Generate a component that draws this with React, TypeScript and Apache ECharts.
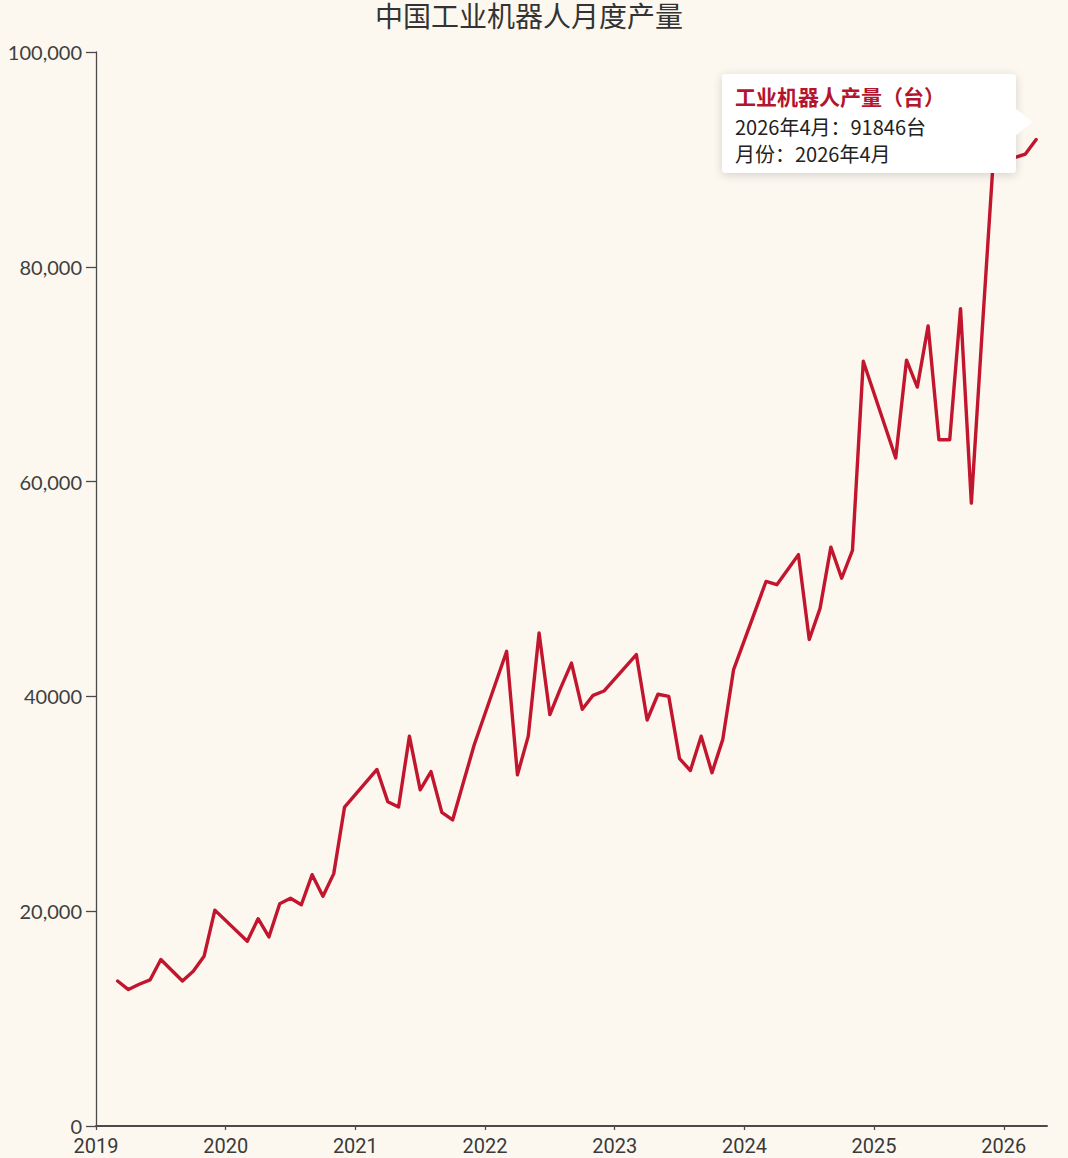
import React, { useEffect, useRef } from "react";
import * as echarts from "echarts";

// ---- data ----
const months: string[] = [
  "2019-03", "2019-04", "2019-05", "2019-06", "2019-07", "2019-08", "2019-09", "2019-10", "2019-11", "2019-12",
  "2020-03", "2020-04", "2020-05", "2020-06", "2020-07", "2020-08", "2020-09", "2020-10", "2020-11", "2020-12",
  "2021-03", "2021-04", "2021-05", "2021-06", "2021-07", "2021-08", "2021-09", "2021-10", "2021-11", "2021-12",
  "2022-03", "2022-04", "2022-05", "2022-06", "2022-07", "2022-08", "2022-09", "2022-10", "2022-11", "2022-12",
  "2023-03", "2023-04", "2023-05", "2023-06", "2023-07", "2023-08", "2023-09", "2023-10", "2023-11", "2023-12",
  "2024-03", "2024-04", "2024-05", "2024-06", "2024-07", "2024-08", "2024-09", "2024-10", "2024-11", "2024-12",
  "2025-03", "2025-04", "2025-05", "2025-06", "2025-07", "2025-08", "2025-09", "2025-10", "2025-11", "2025-12",
  "2026-03", "2026-04",
];

const production: number[] = [
  13500, 12700, 13200, 13600, 15500, 14500, 13500, 14400, 15800, 20100,
  17200, 19300, 17600, 20700, 21200, 20600, 23400, 21400, 23500, 29700,
  33200, 30200, 29700, 36300, 31300, 33000, 29200, 28500, 32000, 35500,
  44200, 32700, 36300, 45900, 38300, 40800, 43100, 38800, 40100, 40500,
  43900, 37800, 40200, 40000, 34200, 33100, 36300, 32900, 36000, 42500,
  50700, 50400, 51800, 53200, 45300, 48200, 53900, 51000, 53600, 71200,
  62200, 71300, 68800, 74500, 63900, 63900, 76100, 58000, 74000, 89500,
  90500, 91846,
];

const yearTicks: number[] = [2019, 2020, 2021, 2022, 2023, 2024, 2025, 2026];
const yTickValues: number[] = [0, 20000, 40000, 60000, 80000, 100000];
const yTickLabels: string[] = ["0", "20,000", "40000", "60,000", "80,000", "100,000"];

const chartTitle = "中国工业机器人月度产量";
const seriesName = "工业机器人产量（台）";
const unit = "台";
const monthFieldName = "月份";

const xMin = 2019;
const xMax = 2026 + 4 / 12;

function monthToX(m: string): number {
  const [y, mo] = m.split("-").map(Number);
  return y + (mo - 1) / 12;
}
function monthLabel(m: string): string {
  const [y, mo] = m.split("-").map(Number);
  return `${y}年${mo}月`;
}

export default function App() {
  const ref = useRef<HTMLDivElement>(null);

  useEffect(() => {
    if (!ref.current) return;
    const chart = echarts.init(ref.current, undefined, { renderer: "svg" });

    const lastIdx = months.length - 1;
    const tipTitle = seriesName;
    const tipLine1 = `${monthLabel(months[lastIdx])}：${production[lastIdx]}${unit}`;
    const tipLine2 = `${monthFieldName}：${monthLabel(months[lastIdx])}`;

    const axisColor = "#4a4a4a";
    const lineColor = "#C2162F";
    const tipZ = 100;

    chart.setOption({
      animation: false,
      backgroundColor: "#FCF8F0",
      title: {
        text: chartTitle,
        left: 375,
        top: 1,
        padding: 0,
        textStyle: {
          fontFamily: "Noto Sans CJK SC",
          fontSize: 28,
          fontWeight: "normal",
          color: "#333333",
          lineHeight: 28,
        },
      },
      grid: { left: 96, right: 21, top: 52, bottom: 32, containLabel: false },
      xAxis: {
        type: "value",
        min: xMin,
        max: xMax,
        interval: 1,
        axisLine: { show: true, lineStyle: { color: axisColor, width: 2 } },
        axisTick: {
          show: true,
          length: 4,
          customValues: yearTicks,
          lineStyle: { color: axisColor, width: 1.3 },
        },
        axisLabel: {
          customValues: yearTicks,
          margin: 12,
          fontFamily: "Roboto",
          fontSize: 20,
          lineHeight: 16,
          color: "#3a3a3a",
          formatter: (v: number) => String(Math.round(v)),
        },
        splitLine: { show: false },
      },
      yAxis: {
        type: "value",
        min: 0,
        max: 100000,
        interval: 20000,
        axisLine: { show: true, lineStyle: { color: axisColor, width: 1.3 } },
        axisTick: { show: true, length: 10, lineStyle: { color: axisColor, width: 1.3 } },
        axisLabel: {
          margin: 14,
          fontFamily: "Lato",
          fontSize: 20,
          lineHeight: 16,
          color: "#3f3f3f",
          formatter: (v: number) => {
            const i = yTickValues.indexOf(v);
            return i >= 0 ? yTickLabels[i] : String(v);
          },
        },
        splitLine: { show: false },
      },
      series: [
        {
          name: seriesName,
          type: "line",
          data: months.map((m, i) => [monthToX(m), production[i]]),
          showSymbol: false,
          symbol: "none",
          lineStyle: { color: lineColor, width: 3.4, join: "round", cap: "round" },
          itemStyle: { color: lineColor },
          z: 2,
        },
      ],
      graphic: [
        {
          type: "group",
          x: 722,
          y: 74,
          z: tipZ,
          children: [
            {
              type: "rect",
              z: tipZ,
              shape: { x: 0, y: 0, width: 294, height: 99, r: 4 },
              style: {
                fill: "#ffffff",
                shadowBlur: 10,
                shadowColor: "rgba(0,0,0,0.16)",
                shadowOffsetX: 0,
                shadowOffsetY: 2,
              },
            },
            {
              type: "polygon",
              z: tipZ,
              shape: { points: [[293, 34], [310, 48], [293, 62]] },
              style: { fill: "#ffffff" },
            },
            {
              type: "text",
              z: tipZ + 1,
              x: 13,
              y: 22,
              style: {
                text: tipTitle,
                fontFamily: "Noto Sans CJK SC",
                fontSize: 21,
                fontWeight: "bold",
                fill: "#B3142E",
                verticalAlign: "middle",
              },
            },
            {
              type: "text",
              z: tipZ + 1,
              x: 13,
              y: 52,
              style: {
                text: tipLine1,
                fontFamily: "Noto Sans CJK SC",
                fontSize: 20,
                fill: "#222222",
                verticalAlign: "middle",
              },
            },
            {
              type: "text",
              z: tipZ + 1,
              x: 13,
              y: 79,
              style: {
                text: tipLine2,
                fontFamily: "Noto Sans CJK SC",
                fontSize: 20,
                fill: "#222222",
                verticalAlign: "middle",
              },
            },
          ],
        },
      ],
    });

    return () => {
      chart.dispose();
    };
  }, []);

  return (
    <div
      ref={ref}
      style={{
        position: "fixed",
        left: 0,
        top: 0,
        width: 1068,
        height: 1158,
        background: "#FCF8F0",
      }}
    />
  );
}
